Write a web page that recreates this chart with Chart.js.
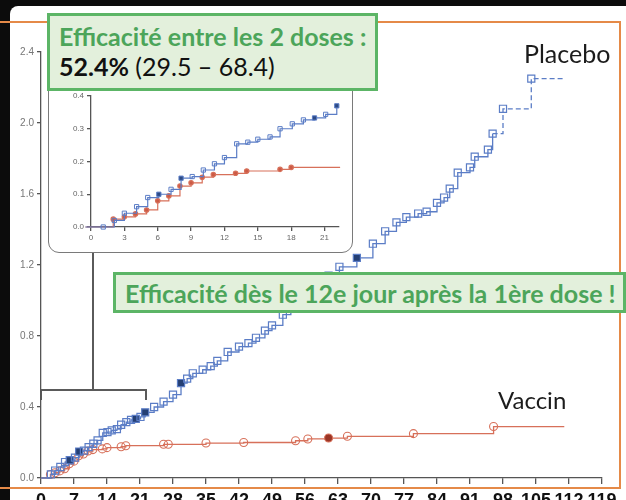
<!DOCTYPE html>
<html>
<head>
<meta charset="utf-8">
<script src="https://cdn.jsdelivr.net/npm/chart.js@4"></script>
<style>
body { margin: 0; width: 626px; height: 500px; overflow: hidden; position: relative; background: #0c0c0c; font-family: Lato, sans-serif; }
#panel { position: absolute; left: 10px; top: 6px; width: 616px; height: 494px; background: #fff; border-top-left-radius: 8px; }
#main { position: absolute; left: 0; top: 0; }
#insetBox { position: absolute; left: 48px; top: 76px; width: 305px; height: 177px; border: 1.5px solid #7a7a7a; border-radius: 11px; background: #fff; box-sizing: border-box; }
#inset { position: absolute; left: 48px; top: 76px; }
.bracket { position: absolute; background: #5a5a5a; }
.orange { position: absolute; background: #e58a48; }
.banner { position: absolute; background: #e3f0dc; border: 3px solid #5cb566; box-sizing: border-box; white-space: nowrap; }
.green { color: #4ca55a; font-weight: bold; }
.lbl { position: absolute; color: #1c1c1c; line-height: 24px; }
</style>
</head>
<body>
<div id="panel"></div>
<div class="bracket" style="left:92px;top:252px;width:1.5px;height:138px"></div>
<div class="bracket" style="left:40px;top:389px;width:107px;height:1.5px"></div>
<div class="bracket" style="left:40px;top:389px;width:1.5px;height:11px"></div>
<div class="bracket" style="left:145px;top:389px;width:1.5px;height:11px"></div>
<canvas id="main" width="626" height="500"></canvas>
<div id="insetBox"></div>
<canvas id="inset" width="305" height="176"></canvas>
<div class="orange" style="left:0;top:21px;width:621px;height:1.5px"></div>
<div class="orange" style="left:619px;top:21px;width:1.5px;height:467px"></div>
<div class="orange" style="left:0;top:487px;width:621px;height:1.5px"></div>
<div class="banner" style="left:47px;top:13px;width:331px;height:78px;padding:6px 0 0 9px">
  <div class="green" style="font-size:25px;line-height:28px">Efficacité entre les 2 doses :</div>
  <div style="font-size:25px;line-height:32px;color:#111"><b>52.4%</b> (29.5 – 68.4)</div>
</div>
<div class="banner" style="left:113px;top:272px;width:513px;height:41px;padding:3px 0 0 9px">
  <div class="green" style="font-size:25px;line-height:30px">Efficacité dès le 12e jour après la 1ère dose !</div>
</div>
<div class="lbl" style="left:524px;top:41px;font-size:25px">Placebo</div>
<div class="lbl" style="left:498px;top:388px;font-size:24px">Vaccin</div>
<script>
// axis ticks
const mainDayTicks = [0, 7, 14, 21, 28, 35, 42, 49, 56, 63, 70, 77, 84, 91, 98, 105, 112, 119];
const mainValueTicks = [0, 0.4, 0.8, 1.2, 1.6, 2.0, 2.4];
const insetDayTicks = [0, 3, 6, 9, 12, 15, 18, 21];
const insetValueTicks = [0, 0.1, 0.2, 0.3, 0.4];

// main chart - placebo
const placeboDays = [0, 1.1, 2.1, 3, 4.1, 5.1, 6.1, 7.2, 8.1, 9.1, 10.1, 11.1, 12, 13.1, 14.1, 15, 16.1, 17, 18.1, 19.1, 20.1, 21.1, 22.1,
  24, 26, 28, 29.7, 31, 32.2, 34.3, 36, 37.4, 39.6, 42, 44, 45.6, 47.5, 49, 51.3, 53, 55, 57, 59, 61, 63.3, 67, 70.4, 73, 75.4, 77.5,
  80, 81.8, 84, 85.5, 86.7, 88.4, 91, 92, 94.8, 95.8, 98, 104, 111];
const placeboValues = [0, 0, 0.02, 0.042, 0.062, 0.09, 0.10, 0.115, 0.149, 0.154, 0.174, 0.193, 0.212, 0.254, 0.259, 0.268, 0.275, 0.30, 0.315, 0.327, 0.333, 0.344, 0.37,
  0.40, 0.43, 0.47, 0.535, 0.56, 0.59, 0.61, 0.63, 0.66, 0.71, 0.74, 0.76, 0.79, 0.83, 0.86, 0.92, 0.96, 1.0, 1.05, 1.09, 1.14, 1.19, 1.24, 1.32, 1.39, 1.44, 1.47,
  1.49, 1.50, 1.55, 1.58, 1.63, 1.72, 1.75, 1.81, 1.85, 1.94, 2.08, 2.25, 2.25];
const placeboSolidDays = [6.1, 8.1, 20.1, 22.1, 29.7, 67];

// main chart - vaccine
const vaccineDays = [0, 2, 3, 4, 5, 6, 7, 8, 9, 10, 11, 13, 14, 17, 18, 26, 27, 35, 43, 54, 56.6, 61, 65, 79, 96, 111];
const vaccineValues = [0, 0.02, 0.03, 0.04, 0.052, 0.08, 0.095, 0.125, 0.135, 0.152, 0.16, 0.164, 0.171, 0.176, 0.182, 0.19, 0.19, 0.197, 0.20, 0.21, 0.22, 0.225, 0.235, 0.25, 0.29, 0.29];
const vaccineSolidDays = [61];

// inset (days 0-21)
const insetPlaceboDays = [-0.5, 1.1, 2.1, 3, 4.1, 5.1, 6.1, 7.2, 8.1, 9.1, 10.1, 11.1, 12, 13.1, 14.1, 15, 16.1, 17, 18.1, 19.1, 20.1, 21.1, 22.1];
const insetPlaceboValues = [0, 0, 0.02, 0.042, 0.062, 0.09, 0.10, 0.115, 0.149, 0.154, 0.174, 0.193, 0.212, 0.254, 0.259, 0.268, 0.275, 0.30, 0.315, 0.327, 0.333, 0.344, 0.37];
const insetPlaceboSolidDays = [6.1, 8.1, 20.1, 22.1];
const insetVaccineDays = [-0.5, 2, 3, 4, 5, 6, 7, 8, 9, 10, 11, 13, 14, 17, 18, 22.4];
const insetVaccineValues = [0, 0.024, 0.031, 0.04, 0.052, 0.08, 0.095, 0.125, 0.135, 0.152, 0.16, 0.164, 0.171, 0.176, 0.182, 0.182];
const insetVaccineDotDays = [2, 3, 4, 5, 6, 7, 8, 9, 10, 11, 13, 14, 17, 18];

const blue = '#5b7dc6';
const red = '#d7705a';

function toPoints(days, values) {
  return days.map((d, i) => ({ x: d, y: values[i] }));
}

function fixedTicks(list) {
  return axis => { axis.ticks = list.map(v => ({ value: v })); };
}

function axisStyle(tickLen) {
  return {
    grid: { drawOnChartArea: false, tickLength: tickLen, color: '#555', lineWidth: 1.3 },
    border: { color: '#555', width: 1.3 }
  };
}

new Chart(document.getElementById('main'), {
  type: 'line',
  data: {
    datasets: [{
      data: toPoints(placeboDays, placeboValues),
      stepped: true,
      borderColor: blue,
      borderWidth: 1.3,
      pointStyle: 'rect',
      pointRadius: placeboDays.map(d => d <= 1.1 || d === 111 ? 0 : 5),
      pointBorderColor: blue,
      pointBorderWidth: 1.2,
      pointBackgroundColor: placeboDays.map(d => placeboSolidDays.includes(d) ? '#243f74' : 'rgba(0,0,0,0)'),
      segment: { borderDash: c => c.p0.parsed.x >= 95 ? [5, 3] : undefined },
      clip: false
    }, {
      data: toPoints(vaccineDays, vaccineValues),
      stepped: true,
      borderColor: red,
      borderWidth: 1.3,
      pointStyle: 'circle',
      pointRadius: vaccineDays.map(d => d === 0 || d === 111 ? 0 : 4),
      pointBorderColor: red,
      pointBorderWidth: 1.1,
      pointBackgroundColor: vaccineDays.map(d => vaccineSolidDays.includes(d) ? '#9a3526' : 'rgba(0,0,0,0)'),
      clip: false
    }]
  },
  options: {
    responsive: false,
    animation: false,
    layout: { padding: { left: 0, top: 52, right: 24, bottom: 0 } },
    plugins: { legend: { display: false }, tooltip: { enabled: false } },
    scales: {
      x: {
        type: 'linear', min: 0, max: 119,
        afterBuildTicks: fixedTicks(mainDayTicks),
        afterFit: a => { a.height = 22; },
        ...axisStyle(6),
        ticks: { font: { family: 'Liberation Sans', weight: 'bold', size: 18 }, color: '#111', padding: 6, maxRotation: 0, autoSkip: false }
      },
      y: {
        min: 0, max: 2.4,
        afterBuildTicks: fixedTicks(mainValueTicks),
        afterFit: a => { a.width = 41; },
        ...axisStyle(4),
        ticks: { font: { family: 'Liberation Sans', size: 10 }, color: '#777', padding: 3, callback: v => v.toFixed(1) }
      }
    }
  }
});

new Chart(document.getElementById('inset'), {
  type: 'line',
  data: {
    datasets: [{
      data: toPoints(insetPlaceboDays, insetPlaceboValues),
      stepped: true,
      borderColor: blue,
      borderWidth: 1.2,
      pointStyle: 'rect',
      pointRadius: insetPlaceboDays.map(d => d < 0 ? 0 : 3),
      pointBorderColor: blue,
      pointBorderWidth: 1,
      pointBackgroundColor: insetPlaceboDays.map(d => insetPlaceboSolidDays.includes(d) ? '#2c4a85' : 'rgba(255,255,255,0)'),
      clip: false
    }, {
      data: toPoints(insetVaccineDays, insetVaccineValues),
      stepped: true,
      borderColor: red,
      borderWidth: 1.2,
      pointStyle: 'circle',
      pointRadius: insetVaccineDays.map(d => insetVaccineDotDays.includes(d) ? 2.2 : 0),
      pointBorderColor: red,
      pointBackgroundColor: '#cc5a45',
      clip: false
    }]
  },
  options: {
    responsive: false,
    animation: false,
    layout: { padding: { left: 0, top: 20, right: 14, bottom: 0 } },
    plugins: { legend: { display: false }, tooltip: { enabled: false } },
    scales: {
      x: {
        type: 'linear', min: 0, max: 22.3,
        afterBuildTicks: fixedTicks(insetDayTicks),
        afterFit: a => { a.height = 25; },
        ...axisStyle(4),
        ticks: { font: { family: 'Liberation Sans', size: 8 }, color: '#666', padding: 2, maxRotation: 0, autoSkip: false }
      },
      y: {
        min: 0, max: 0.4,
        afterBuildTicks: fixedTicks(insetValueTicks),
        afterFit: a => { a.width = 43; },
        ...axisStyle(4),
        ticks: { font: { family: 'Liberation Sans', size: 8 }, color: '#666', padding: 3, callback: v => v.toFixed(1) }
      }
    }
  }
});
</script>
</body>
</html>
